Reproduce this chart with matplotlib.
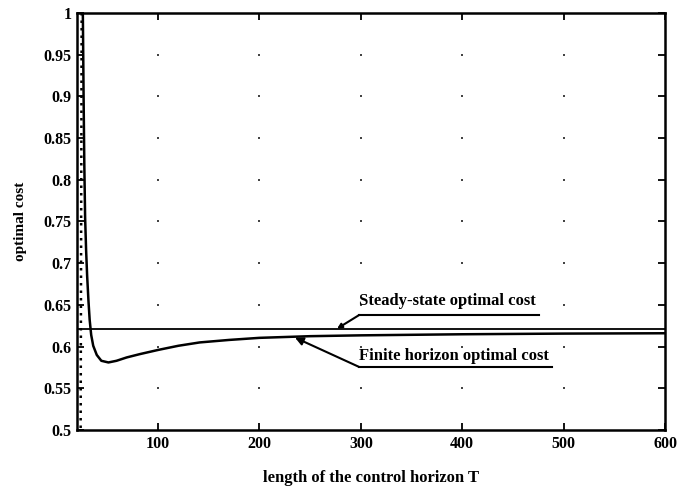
import numpy as np
import matplotlib
matplotlib.use("Agg")
import matplotlib.pyplot as plt

# finite horizon optimal cost vs. length of the control horizon
horizon_T = [25.5, 26.0, 26.5, 27.2, 28.0, 29.0, 30.0, 31.3, 32.5, 34.0, 36.0, 39.5,
             44.0, 51.0, 59.0, 69.0, 82.0, 100.0, 120.0, 141.0, 170.0, 200.0, 250.0,
             300.0, 400.0, 500.0, 600.0]
finite_cost = [1.03, 0.97, 0.90, 0.82, 0.755, 0.715, 0.685, 0.655, 0.632, 0.614, 0.601,
               0.590, 0.583, 0.581, 0.583, 0.587, 0.591, 0.596, 0.601, 0.605, 0.608,
               0.6105, 0.6125, 0.6135, 0.6148, 0.6156, 0.616]

# steady-state (infinite horizon) optimal cost
steady_T = [20.0, 600.0]
steady_cost = [0.621, 0.621]

# dotted reference line near the shortest horizon
dotted_T = [24.6, 23.6]
dotted_cost = [1.0, 0.5]

x_ticks = [100, 200, 300, 400, 500, 600]
y_ticks = [0.5, 0.55, 0.6, 0.65, 0.7, 0.75, 0.8, 0.85, 0.9, 0.95, 1.0]
y_tick_labels = ["0.5", "0.55", "0.6", "0.65", "0.7", "0.75", "0.8", "0.85", "0.9", "0.95", "1"]

plt.rcParams["font.family"] = ["Liberation Serif", "DejaVu Serif"]

fig = plt.figure(figsize=(6.79, 4.92), dpi=100)
ax = fig.add_axes([0.1134, 0.1260, 0.8660, 0.8476])

ax.plot(dotted_T, dotted_cost, color="black", linestyle=(0, (1, 2)), linewidth=1.8)
ax.plot(steady_T, steady_cost, color="black", linewidth=1.3)
ax.plot(horizon_T, finite_cost, color="black", linewidth=1.8)

# sparse dotted grid: only dots at the tick crossings
gx, gy = np.meshgrid(x_ticks[:-1], y_ticks[1:-1])
ax.scatter(gx.ravel(), gy.ravel(), s=2, color="#444444", marker="s", linewidths=0)

ax.set_xlim(20, 600)
ax.set_ylim(0.5, 1.0)
ax.set_xticks(x_ticks)
ax.set_yticks(y_ticks)
ax.set_yticklabels(y_tick_labels)
ax.tick_params(direction="in", length=5, width=1.3, top=True, right=True,
               labelsize=11.5, pad=4)
for lab in ax.get_xticklabels() + ax.get_yticklabels():
    lab.set_fontweight("bold")
for sp in ax.spines.values():
    sp.set_linewidth(1.8)

ax.set_xlabel("length of the control horizon T", fontsize=12, fontweight="bold",
              labelpad=13)
ax.set_ylabel("optimal cost", fontsize=11, fontweight="bold", labelpad=12)

# annotation for the steady-state line
ax.text(298, 0.6455, "Steady-state optimal cost", fontsize=12, fontweight="bold",
        ha="left", va="bottom")
ax.plot([298, 475.5], [0.638, 0.638], color="black", linewidth=1.5)
ax.annotate("", xy=(276.5, 0.6215), xytext=(298.5, 0.638),
            arrowprops=dict(arrowstyle="-|>", color="black", lw=1.5,
                            mutation_scale=7, shrinkA=0, shrinkB=0))

# annotation for the finite horizon curve
ax.text(298, 0.5790, "Finite horizon optimal cost", fontsize=12, fontweight="bold",
        ha="left", va="bottom")
ax.plot([298, 489], [0.5755, 0.5755], color="black", linewidth=1.5)
ax.annotate("", xy=(235, 0.6108), xytext=(298.5, 0.5755),
            arrowprops=dict(arrowstyle="-|>", color="black", lw=1.5,
                            mutation_scale=12, shrinkA=0, shrinkB=0))

fig.savefig("out.png", dpi=100)
